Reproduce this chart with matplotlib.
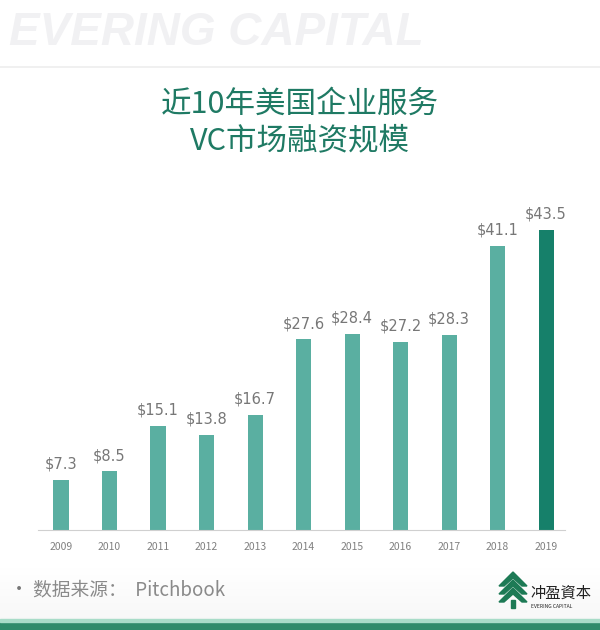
import matplotlib.pyplot as plt
from matplotlib.patches import Rectangle, Polygon
import numpy as np

plt.rcParams['font.family'] = ['Noto Sans CJK SC', 'DejaVu Sans']

years = ["2009", "2010", "2011", "2012", "2013", "2014", "2015", "2016", "2017", "2018", "2019"]
funding = [7.3, 8.5, 15.1, 13.8, 16.7, 27.6, 28.4, 27.2, 28.3, 41.1, 43.5]
value_labels = ["$7.3", "$8.5", "$15.1", "$13.8", "$16.7", "$27.6", "$28.4", "$27.2", "$28.3", "$41.1", "$43.5"]

W, H = 600, 630
fig = plt.figure(figsize=(W / 100, H / 100), dpi=100)
fig.patch.set_facecolor("white")

# --- background decorations ---
bg = fig.add_axes([0, 0, 1, 1])
bg.set_xlim(0, W)
bg.set_ylim(H, 0)
bg.axis("off")
# soft gray gradient behind the source line
grad = np.linspace(0, 1, 100).reshape(-1, 1)
bg.imshow(grad, extent=(0, W, 620, 565), cmap="Greys", vmin=0, vmax=16,
          aspect="auto", alpha=0.9, zorder=0)
bg.plot([0, W], [67, 67], color="#eeeeee", lw=1.2)
bg.add_patch(Rectangle((0, 622), W, 8, color="#2e8b6a", zorder=2))
bg.add_patch(Rectangle((0, 619), W, 3, color="#a8dcc8", zorder=2))
bg.text(9, 33, "EVERING CAPITAL", fontsize=33, fontweight="bold", style="italic",
        family="Liberation Sans", color="#f1f1f3", va="center", ha="left")

# title
bg.text(300, 104, "近10年美国企业服务", fontsize=22, fontweight=300, color="#1f7a64",
        ha="center", va="center")
bg.text(300, 141, "VC市场融资规模", fontsize=22, fontweight=300, color="#1f7a64",
        ha="center", va="center")

# source
bg.text(10, 590, "•", fontsize=13, color="#777777", va="center")
bg.text(33, 590, "数据来源：  Pitchbook", fontsize=13.5, fontweight=300, color="#8a8a8a",
        va="center")

# logo
tree_color = "#1d7a55"
for dy in (0, 8, 16):
    bg.add_patch(Polygon([[499, 586 + dy], [513, 572 + dy], [527, 586 + dy],
                          [522, 586 + dy], [513, 578 + dy], [504, 586 + dy]],
                         closed=True, color=tree_color, zorder=3))
bg.add_patch(Rectangle((511, 600), 4, 8, color=tree_color, zorder=3))
bg.text(530, 593, "冲盈資本", fontsize=11, color="#222222", va="center", ha="left")
bg.text(531, 606, "EVERING CAPITAL", fontsize=3.6, color="#222222", va="center", ha="left")

# --- bar chart ---
ax = fig.add_axes([38 / W, (H - 530) / H, 527 / W, 330 / H])
x = np.arange(len(years))
colors = ["#5aafa1"] * (len(years) - 1) + ["#16806a"]
ax.bar(x, funding, width=0.31, color=colors, zorder=2)
for xi, v, lab in zip(x, funding, value_labels):
    ax.text(xi, v + 1.2, lab, ha="center", va="bottom", fontsize=10.5, color="#777777",
            family="DejaVu Sans")

ax.set_xlim(-0.474, 10.39)
ax.set_ylim(0, 47.8)
ax.set_xticks(x)
ax.set_xticklabels(years, fontsize=7.5, color="#808080")
ax.tick_params(axis="x", length=0, pad=9)
ax.set_yticks([])
for s in ("top", "right", "left"):
    ax.spines[s].set_visible(False)
ax.spines["bottom"].set_color("#d0d0d0")
ax.patch.set_alpha(0)

fig.savefig("out.png", dpi=100)
